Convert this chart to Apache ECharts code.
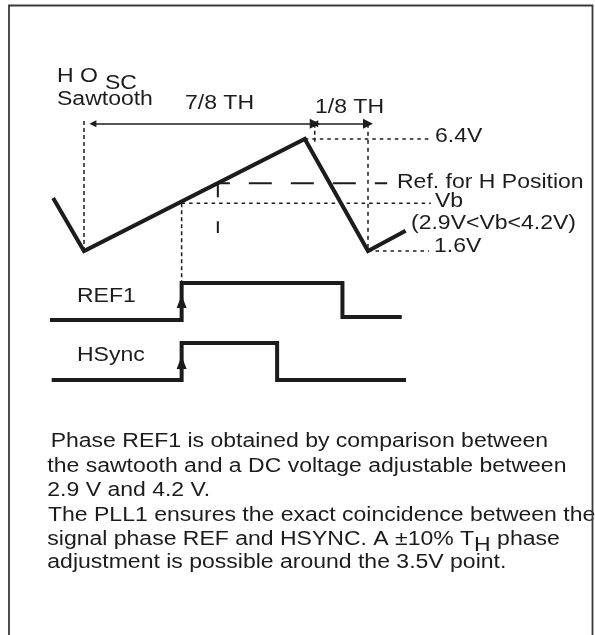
<!DOCTYPE html>
<html><head><meta charset="utf-8">
<script src="https://cdn.jsdelivr.net/npm/echarts@6/dist/echarts.min.js"></script>
<style>html,body{margin:0;padding:0;background:#fff}#c{width:595px;height:635px}</style>
</head><body><div id="c"></div>
<script>
// ---- data (time in units of T_H/8, 0 = sawtooth minimum; sawtooth in volts) ----
const sawT = [-0.87, 0, 6.22, 8.0, 9.06];
const sawV = [3.87, 1.6, 6.4, 1.6, 2.47];
const ref1T = [-0.96, 2.75, 2.75, 7.28, 7.28, 8.95];
const ref1L = [0, 0, 1, 1, 0.08, 0.08];
const hsyncT = [-0.91, 2.75, 2.75, 5.44, 5.44, 9.07];
const hsyncL = [0, 0, 1, 1, 0, 0];
const vTop = 6.4, vBot = 1.6;          // sawtooth extremes
const vb = 3.65, vbT = 2.75;           // Vb level and crossing time
const vRef = 4.5, refT = 3.77;         // Ref for H position level and crossing
const dimV = 7.05;                     // dimension arrows level
const dim78 = [0.25, 6.5], dim18 = [6.5, 8.0];
const labelEndT = 9.72;                // end of dotted level lines
const refEndT = 8.54;
const textLines = [
  'Phase REF1 is obtained by comparison between',
  'the sawtooth and a DC voltage adjustable between',
  '2.9 V and 4.2 V.',
  'The PLL1 ensures the exact coincidence between the',
  ['signal phase REF and HSYNC. A \u00b110% T', 'H', ' phase'],
  'adjustment is possible around the 3.5V point.'
];

const INK = '#1c1c1c';
const FONT = "'Liberation Sans', Arial, sans-serif";
const FS = 20, SX = 1.15;

function seg(pts, dash, width, xi, yi, offset) {
  return {type:'line', xAxisIndex:xi||0, yAxisIndex:yi||0, data:pts, symbol:'none', silent:true, clip:false,
    animation:false, lineStyle:{color:INK, width:width||1.5, type:dash||'solid', dashOffset:offset||0}, z:1};
}
const dot = [3.5, 4];
const series = [
  {type:'line', data: sawT.map((t,i)=>[t,sawV[i]]), symbol:'none', clip:false, animation:false,
   lineStyle:{color:INK, width:4, join:'miter'}, z:3},
  seg([[0,vBot],[0,dimV+0.12]], [4,3]),
  seg([[vbT,vb],[vbT,0.3]], [4,3]),
  seg([[vbT,vb],[labelEndT+0.05,vb]], dot),
  seg([[sawT[2],vTop],[labelEndT,vTop]], dot),
  seg([[sawT[3],vBot],[labelEndT,vBot]], dot),
  seg([[dim78[1],dimV],[dim78[1],6.27]], [4,3]),
  seg([[dim18[1],dimV],[dim18[1],vBot]], [4,4]),
  seg([[refT,vRef],[refEndT,vRef]], [23,19], 2, 0, 0, 11),
  seg([[refT,vRef],[refT,2.37]], [14,24], 2),
  {type:'lines', coordinateSystem:'cartesian2d', xAxisIndex:0, yAxisIndex:0, silent:true, animation:false,
   symbol:['triangle','triangle'], symbolSize:[7,10],
   lineStyle:{color:INK, width:1.5, opacity:1}, itemStyle:{color:INK},
   data:[{coords:[[dim78[0],dimV],[dim78[1],dimV]]},{coords:[[dim18[0],dimV],[dim18[1],dimV]]}]},
  {type:'line', xAxisIndex:1, yAxisIndex:1, data: ref1T.map((t,i)=>[t,ref1L[i]]), symbol:'none', clip:false,
   animation:false, lineStyle:{color:INK, width:4, join:'miter'},
   markPoint:{symbol:'triangle', symbolSize:[10,13], itemStyle:{color:INK}, label:{show:false}, silent:true, z:5,
     data:[{coord:[ref1T[1],0.5]}]}},
  {type:'line', xAxisIndex:2, yAxisIndex:2, data: hsyncT.map((t,i)=>[t,hsyncL[i]]), symbol:'none', clip:false,
   animation:false, lineStyle:{color:INK, width:4, join:'miter'},
   markPoint:{symbol:'triangle', symbolSize:[10,13], itemStyle:{color:INK}, label:{show:false}, silent:true, z:5,
     data:[{coord:[hsyncT[1],0.47]}]}}
];

function xa(i){return {type:'value', gridIndex:i, min:-1.5, max:10, show:false};}
function ya(i,min,max){return {type:'value', gridIndex:i, min:min, max:max, show:false};}

// text helpers
const cv = document.createElement('canvas').getContext('2d');
cv.font = FS + "px 'Liberation Sans'";
function w(s){ return cv.measureText(s).width * SX; }
function txt(s, x, base, extra) {
  return Object.assign({type:'text', x:x, y:base - 7, scaleX:SX, silent:true,
    style:{text:s, fontSize:FS, fontFamily:FONT, fill:INK, align:'left', verticalAlign:'middle',
           textAlign:'left', textVerticalAlign:'middle'}}, extra||{});
}
const graphics = [
  {type:'polyline', shape:{points:[[9,640],[9,5.5],[592.5,5.5],[592.5,640]]},
   style:{stroke:'#3a3a3a', lineWidth:1.8, fill:null}, silent:true, z:10},
  txt('H O', 57, 83), txt('SC', 105, 90), txt('Sawtooth', 57, 106),
  txt('7/8 TH', 185, 110), txt('1/8 TH', 315, 114),
  txt('6.4V', 435, 143), txt('Ref. for H Position', 397, 189),
  txt('Vb', 435, 208), txt('(2.9V<Vb<4.2V)', 411, 230), txt('1.6V', 434, 253),
  txt('REF1', 77, 303), txt('HSync', 77, 362)
];
const paraX = [50.7, 47.3, 47.3, 48, 47.3, 47.3];
const paraB = [448.3, 473.3, 497.3, 522.3, 546.5, 569.5];
textLines.forEach((ln, i) => {
  if (Array.isArray(ln)) {
    let x = paraX[i];
    graphics.push(txt(ln[0], x, paraB[i])); x += w(ln[0]);
    graphics.push(txt(ln[1], x, paraB[i] + 6)); x += w(ln[1]);
    graphics.push(txt(ln[2], x, paraB[i]));
  } else graphics.push(txt(ln, paraX[i], paraB[i]));
});

const chart = echarts.init(document.getElementById('c'), null, {renderer:'canvas'});
chart.setOption({
  backgroundColor:'#fff', animation:false,
  grid:[
    {left:30.75, width:408.25, top:101.67, height:186.67},
    {left:30.75, width:408.25, top:283, height:37},
    {left:30.75, width:408.25, top:343, height:37}
  ],
  xAxis:[xa(0), xa(1), xa(2)],
  yAxis:[ya(0,0,8), ya(1,0,1), ya(2,0,1)],
  series: series,
  graphic: graphics
});
</script></body></html>
